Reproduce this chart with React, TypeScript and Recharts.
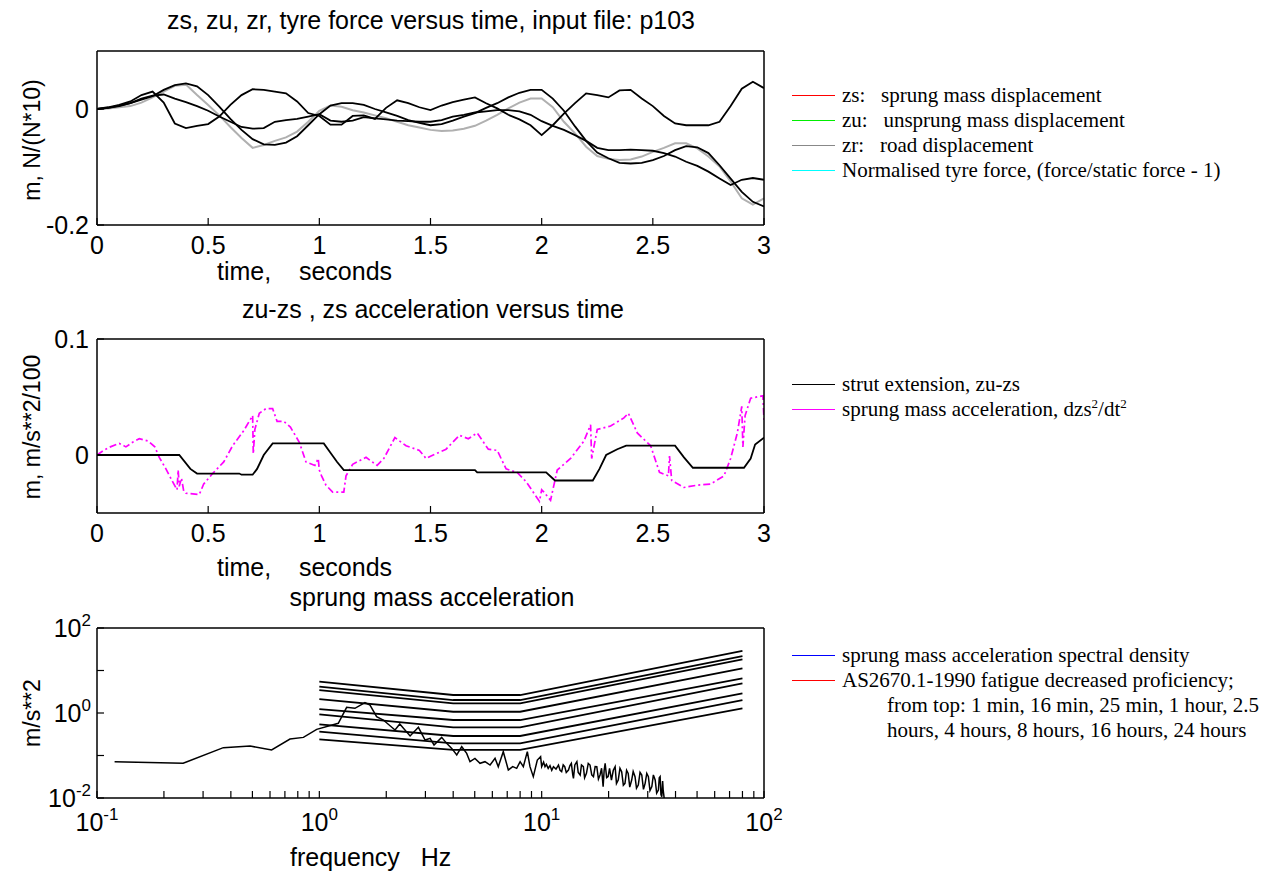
import React from "react";
import { LineChart, Line, XAxis, YAxis, Legend } from "recharts";

const SANS = "Arial, 'Liberation Sans', Helvetica, sans-serif";
const SERIF = "'Times New Roman', 'Liberation Serif', Times, serif";
const AXIS_PX = 25;

// ---------- panel 1: zs, zu, zr, tyre force versus time ----------
const topTime = [0, 0.05, 0.1, 0.15, 0.2, 0.25, 0.3, 0.35, 0.4, 0.45, 0.5, 0.55, 0.6, 0.65, 0.7, 0.75, 0.8, 0.85, 0.9, 0.95, 1, 1.05, 1.1, 1.15, 1.2, 1.25, 1.3, 1.35, 1.4, 1.45, 1.5, 1.55, 1.6, 1.65, 1.7, 1.75, 1.8, 1.85, 1.9, 1.95, 2, 2.05, 2.1, 2.15, 2.2, 2.25, 2.3, 2.35, 2.4, 2.45, 2.5, 2.55, 2.6, 2.65, 2.7, 2.75, 2.8, 2.85, 2.9, 2.95, 3];
const zsDisp = [0, 0.002, 0.005, 0.01, 0.016, 0.022, 0.033, 0.041, 0.044, 0.039, 0.024, 0.004, -0.017, -0.036, -0.052, -0.061, -0.062, -0.058, -0.047, -0.028, -0.009, 0.006, 0.01, 0.01, 0.007, 0, -0.006, -0.012, -0.019, -0.024, -0.028, -0.026, -0.02, -0.013, -0.007, 0.002, 0.01, 0.02, 0.028, 0.033, 0.033, 0.018, -0.003, -0.03, -0.055, -0.075, -0.085, -0.093, -0.094, -0.093, -0.088, -0.081, -0.071, -0.064, -0.066, -0.076, -0.097, -0.12, -0.143, -0.16, -0.168];
const zuDisp = [0, 0.001, 0.003, 0.005, 0.011, 0.02, 0.03, 0.04, 0.042, 0.024, 0.007, -0.011, -0.031, -0.05, -0.067, -0.062, -0.055, -0.049, -0.039, -0.022, -0.003, 0.006, 0.004, -0.002, -0.006, -0.011, -0.016, -0.022, -0.028, -0.032, -0.036, -0.038, -0.037, -0.034, -0.029, -0.02, -0.01, 0.001, 0.011, 0.018, 0.018, 0.003, -0.022, -0.042, -0.065, -0.081, -0.086, -0.088, -0.087, -0.082, -0.074, -0.067, -0.059, -0.059, -0.068, -0.082, -0.099, -0.125, -0.154, -0.165, -0.154];
const zrDisp = [0, 0.003, 0.007, 0.013, 0.024, 0.03, 0.011, -0.025, -0.033, -0.029, -0.026, -0.013, 0.007, 0.024, 0.034, 0.033, 0.03, 0.027, 0.013, -0.007, -0.012, -0.027, -0.027, -0.012, -0.011, -0.017, 0.002, 0.015, 0.01, 0.003, -0.002, 0.006, 0.012, 0.016, 0.02, 0.01, 0.001, -0.01, -0.018, -0.028, -0.045, -0.028, -0.008, 0.01, 0.027, 0.024, 0.02, 0.032, 0.033, 0.018, 0.005, -0.012, -0.025, -0.028, -0.028, -0.028, -0.022, 0.005, 0.035, 0.047, 0.036];
const tyreForce = [0, 0.002, 0.006, 0.01, 0.018, 0.023, 0.025, 0.018, 0.012, 0.005, -0.003, -0.013, -0.022, -0.031, -0.034, -0.033, -0.022, -0.019, -0.017, -0.013, -0.009, -0.02, -0.022, -0.02, -0.014, -0.016, -0.018, -0.02, -0.021, -0.022, -0.022, -0.019, -0.013, -0.01, -0.006, -0.004, -0.002, -0.002, -0.004, -0.01, -0.021, -0.029, -0.036, -0.045, -0.055, -0.067, -0.071, -0.071, -0.07, -0.071, -0.072, -0.076, -0.082, -0.091, -0.098, -0.108, -0.12, -0.131, -0.122, -0.119, -0.122];
const timeTicks = [0, 0.5, 1, 1.5, 2, 2.5, 3];
const topYTicks = [-0.2, 0];

// ---------- panel 2: strut extension and sprung mass acceleration ----------
const strutTime = [0, 0.37, 0.42, 0.45, 0.64, 0.65, 0.7, 0.72, 0.75, 0.79, 1.02, 1.05, 1.08, 1.11, 1.7, 1.71, 2.02, 2.06, 2.23, 2.26, 2.29, 2.34, 2.38, 2.6, 2.64, 2.68, 2.91, 2.94, 2.96, 3];
const strutExt = [0, 0, -0.012, -0.016, -0.016, -0.017, -0.017, -0.012, 0, 0.01, 0.01, 0.002, -0.006, -0.013, -0.013, -0.015, -0.015, -0.022, -0.022, -0.012, 0, 0.005, 0.008, 0.008, -0.002, -0.011, -0.011, -0.003, 0.009, 0.015];
const accTime = [0, 0.03, 0.06, 0.1, 0.13, 0.16, 0.19, 0.23, 0.26, 0.28, 0.31, 0.34, 0.36, 0.365, 0.37, 0.38, 0.39, 0.4, 0.46, 0.48, 0.52, 0.57, 0.61, 0.66, 0.7, 0.703, 0.71, 0.73, 0.76, 0.79, 0.81, 0.84, 0.87, 0.91, 0.94, 0.98, 0.995, 1, 1.01, 1.03, 1.06, 1.11, 1.12, 1.15, 1.21, 1.26, 1.29, 1.34, 1.39, 1.45, 1.48, 1.5, 1.57, 1.63, 1.67, 1.71, 1.76, 1.8, 1.84, 1.89, 1.93, 1.99, 2, 2.01, 2.04, 2.07, 2.13, 2.19, 2.22, 2.225, 2.25, 2.31, 2.37, 2.39, 2.43, 2.49, 2.53, 2.57, 2.575, 2.585, 2.64, 2.7, 2.76, 2.82, 2.85, 2.88, 2.9, 2.905, 2.915, 2.94, 2.995, 3];
const accVal = [0, 0.004, 0.007, 0.01, 0.007, 0.011, 0.014, 0.012, 0.007, -0.002, -0.012, -0.023, -0.03, -0.013, -0.027, -0.02, -0.031, -0.033, -0.034, -0.025, -0.016, -0.006, 0.008, 0.021, 0.034, 0.001, 0.022, 0.036, 0.04, 0.04, 0.029, 0.029, 0.024, 0.011, -0.006, -0.009, -0.003, -0.013, -0.018, -0.026, -0.032, -0.032, -0.018, -0.008, -0.002, -0.009, -0.003, 0.015, 0.008, 0.004, -0.003, -0.001, 0.005, 0.017, 0.014, 0.019, 0.005, 0.004, -0.012, -0.015, -0.023, -0.04, -0.03, -0.032, -0.039, -0.013, -0.003, 0.012, 0.026, -0.003, 0.022, 0.025, 0.032, 0.036, 0.019, 0.008, -0.015, -0.018, -0.001, -0.022, -0.028, -0.026, -0.025, -0.018, -0.003, 0.019, 0.042, 0.007, 0.034, 0.049, 0.051, 0.03];
const midYTicks = [0, 0.1];

// ---------- panel 3: spectral density (log-log) ----------
const specFreq = [0.12, 0.244, 0.37, 0.488, 0.61, 0.738, 0.848, 0.973, 1.217, 1.327, 1.446, 1.604, 1.69, 1.81, 1.94, 2.19, 2.3, 2.56, 2.79, 2.99, 3.15, 3.28, 3.55, 3.74, 3.94, 4.15, 4.37, 4.6, 4.76, 5.01, 5.28, 5.56, 5.86, 6.17, 6.38, 6.72, 7.08, 7.41, 7.72, 8, 8.27, 8.62, 8.86, 9.17, 9.56, 9.89,
  10.0, 10.2, 10.35, 10.5, 10.7, 10.9, 11.1, 11.3, 11.6, 11.9, 12.1, 12.3, 12.5, 12.7, 12.9, 13.2, 13.4, 13.6, 13.8, 13.9, 14.1, 14.4, 14.6, 14.9, 15.1, 15.4, 15.6, 15.9, 16.2, 16.5, 16.8, 17.1, 17.4, 17.7, 18.0, 18.3, 18.6, 18.9, 19.1, 19.3, 19.6, 19.9, 20.2, 20.6, 21.0, 21.4, 21.7, 22.1, 22.5, 22.9, 23.3, 23.7, 24.1, 24.5, 24.9, 25.4, 25.8, 26.3, 26.7, 27.2, 27.7, 28.2, 28.7, 29.2, 29.7, 30.2, 30.7, 31.3, 31.8, 32.4, 32.9, 33.5, 33.8, 34.1, 34.4, 34.7, 35.0, 35.2, 35.6];
const specPsd = [0.0716, 0.0655, 0.153, 0.167, 0.135, 0.244, 0.267, 0.412, 0.571, 1.36, 1.29, 1.75, 1.54, 0.82, 0.684, 0.398, 0.551, 0.288, 0.46, 0.231, 0.254, 0.177, 0.267, 0.193, 0.147, 0.103, 0.161, 0.112, 0.0716, 0.0857, 0.0655, 0.0716, 0.0597, 0.0857, 0.0546, 0.123, 0.0456, 0.0546, 0.0499, 0.0716, 0.0546, 0.123, 0.0546, 0.0318, 0.0783, 0.0938,
  0.055, 0.07, 0.0546, 0.062, 0.0499, 0.058, 0.045, 0.0546, 0.048, 0.0597, 0.045, 0.0416, 0.06, 0.0546, 0.04, 0.0456, 0.058, 0.0655, 0.035, 0.029, 0.06, 0.0716, 0.04, 0.0348, 0.06, 0.0546, 0.03, 0.038, 0.065, 0.0597, 0.035, 0.0318, 0.055, 0.0546, 0.028, 0.0348, 0.05, 0.0185, 0.045, 0.0655, 0.03, 0.0318, 0.05, 0.0265, 0.045, 0.0546, 0.022, 0.0265, 0.05, 0.0416, 0.02, 0.0221, 0.045, 0.038, 0.018, 0.0265, 0.042, 0.0318, 0.017, 0.0202, 0.04, 0.0348, 0.016, 0.0221, 0.038, 0.0318, 0.015, 0.0185, 0.035, 0.0265, 0.013, 0.0154, 0.03, 0.0318, 0.012, 0.0107, 0.025, 0.0154, 0.0095];

// AS2670.1-1990 fatigue decreased proficiency boundaries
const fatigueFreq = [1, 4, 8, 80];
const fat1min = [5.46, 2.65, 2.65, 28.8];
const fat16min = [4.16, 2.02, 2.02, 21.9];
const fat25min = [3.47, 1.69, 1.69, 18.3];
const fat1h = [2.13, 1.07, 1.07, 11.2];
const fat2h5 = [1.24, 0.684, 0.684, 6.54];
const fat4h = [0.93, 0.459, 0.459, 4.99];
const fat8h = [0.54, 0.288, 0.288, 2.9];
const fat16h = [0.363, 0.193, 0.193, 2.02];
const fat24h = [0.24, 0.135, 0.135, 1.29];
const fatigueSets = [fat1min, fat16min, fat25min, fat1h, fat2h5, fat4h, fat8h, fat16h, fat24h];

const freqTicks = [0.1, 0.2, 0.3, 0.4, 0.5, 0.6, 0.7, 0.8, 0.9, 1, 2, 3, 4, 5, 6, 7, 8, 9, 10, 20, 30, 40, 50, 60, 70, 80, 90, 100];
const psdTicks = [0.01, 0.1, 1, 10, 100];

// legends
const topLegend = [
  { color: "#ff0000", text: "zs:   sprung mass displacement" },
  { color: "#00ee00", text: "zu:   unsprung mass displacement" },
  { color: "#888888", text: "zr:   road displacement" },
  { color: "#00ffff", text: "Normalised tyre force, (force/static force - 1)" },
];
const midLegend = [
  { color: "#000000", text: "strut extension, zu-zs" },
  { color: "#ff00ff", text: "sprung mass acceleration, dzs", sup: true },
];
const bottomLegend = [
  { color: "#0000ff", text: "sprung mass acceleration spectral density" },
  { color: "#ff0000", text: "AS2670.1-1990 fatigue decreased proficiency;" },
  { color: null, text: "from top: 1 min, 16 min, 25 min, 1 hour, 2.5" },
  { color: null, text: "hours, 4 hours, 8 hours, 16 hours, 24 hours" },
];

// table / per-series rows built from the arrays above
const topRows = topTime.map((t, i) => ({ t, zs: zsDisp[i], zu: zuDisp[i], zr: zrDisp[i], tyre: tyreForce[i] }));
const strutRows = strutTime.map((t, i) => ({ t, v: strutExt[i] }));
const accRows = accTime.map((t, i) => ({ t, v: accVal[i] }));
const specRows = specFreq.map((f, i) => ({ f, p: specPsd[i] }));
const fatigueRows = fatigueSets.map((set) => fatigueFreq.map((f, i) => ({ f, p: set[i] })));

const TICK = 7;
const LW = 1.8;

const LinXTick = (props: any) => {
  const { x, y, payload, dy } = props;
  return (
    <g>
      <line x1={x} y1={y} x2={x} y2={y - TICK} stroke="#000" strokeWidth={1.2} />
      <text x={x} y={y + dy} textAnchor="middle" fontSize={AXIS_PX} fontFamily={SANS} fill="#000">
        {payload.value}
      </text>
    </g>
  );
};

const LinYTick = (props: any) => {
  const { x, y, payload } = props;
  return (
    <g>
      <line x1={x} y1={y} x2={x + TICK} y2={y} stroke="#000" strokeWidth={1.2} />
      <text x={x - 8} y={y + 9} textAnchor="end" fontSize={AXIS_PX} fontFamily={SANS} fill="#000">
        {payload.value}
      </text>
    </g>
  );
};

const decade = (v: number) => Math.round(Math.log10(v));
const isDecade = (v: number) => Math.abs(Math.log10(v) - decade(v)) < 1e-9;

const LogXTick = (props: any) => {
  const { x, y, payload } = props;
  const v = payload.value;
  return (
    <g>
      <line x1={x} y1={y} x2={x} y2={y - TICK} stroke="#000" strokeWidth={1.2} />
      {isDecade(v) && (
        <text x={x} y={y + 33} textAnchor="middle" fontSize={AXIS_PX} fontFamily={SANS} fill="#000">
          10
          <tspan dy={-11} fontSize={17}>
            {decade(v)}
          </tspan>
        </text>
      )}
    </g>
  );
};

const LogYTick = (props: any) => {
  const { x, y, payload } = props;
  const e = decade(payload.value);
  return (
    <g>
      <line x1={x} y1={y} x2={x + TICK} y2={y} stroke="#000" strokeWidth={1.2} />
      {e % 2 === 0 && (
        <text x={x - 6} y={y + 9} textAnchor="end" fontSize={AXIS_PX} fontFamily={SANS} fill="#000">
          10
          <tspan dy={-11} fontSize={17}>
            {e}
          </tspan>
        </text>
      )}
    </g>
  );
};

const LegendBox = ({ items }: { items: any[] }) => (
  <div style={{ fontFamily: SERIF, fontSize: 21, color: "#000" }}>
    {items.map((it, i) => (
      <div key={i} style={{ display: "flex", alignItems: "center", height: 25, whiteSpace: "pre" }}>
        {it.color ? (
          <span style={{ display: "inline-block", width: 43, height: 0, borderTop: `1px solid ${it.color}`, marginRight: 7 }} />
        ) : (
          <span style={{ display: "inline-block", width: 95 }} />
        )}
        <span style={{ lineHeight: "25px" }}>
          {it.text}
          {it.sup && (
            <>
              <sup style={{ fontSize: 13, lineHeight: 0 }}>2</sup>/dt<sup style={{ fontSize: 13, lineHeight: 0 }}>2</sup>
            </>
          )}
        </span>
      </div>
    ))}
  </div>
);

const axisLine = { stroke: "#000", strokeWidth: 1.5 };
const pre = { whiteSpace: "pre" as const };

const Frame = ({ top, children }: { top: number; children: React.ReactNode }) => (
  <div style={{ position: "absolute", left: 0, top, width: 1283, height: 300 }}>{children}</div>
);

export default function App() {
  return (
    <div style={{ position: "absolute", left: 0, top: 0, width: 1283, height: 880, background: "#fff" }}>
      <Frame top={0}>
        <LineChart width={1283} height={300} data={topRows} margin={{ top: 51, right: 519, bottom: 45, left: 0 }}>
          <XAxis dataKey="t" type="number" domain={[0, 3]} ticks={timeTicks} interval={0} allowDataOverflow height={30} tickSize={0} tickMargin={0} tickLine={false} axisLine={axisLine} tick={<LinXTick dy={29} />} />
          <XAxis xAxisId="top" orientation="top" mirror type="number" domain={[0, 3]} ticks={timeTicks} interval={0} allowDataOverflow tick={false} tickSize={TICK} axisLine={axisLine} tickLine={{ stroke: "#000", strokeWidth: 1.2 }} />
          <YAxis type="number" domain={[-0.2, 0.1]} ticks={topYTicks} interval={0} allowDataOverflow width={97} tickSize={0} tickMargin={0} tickLine={false} axisLine={axisLine} tick={<LinYTick />} />
          <YAxis yAxisId="right" orientation="right" mirror type="number" domain={[-0.2, 0.1]} ticks={topYTicks} interval={0} allowDataOverflow tick={false} tickSize={TICK} axisLine={axisLine} tickLine={{ stroke: "#000", strokeWidth: 1.2 }} />
          <Line type="linear" dataKey="zu" stroke="#b0b0b0" strokeWidth={2} dot={false} isAnimationActive={false} />
          <Line type="linear" dataKey="zs" stroke="#000" strokeWidth={LW} dot={false} isAnimationActive={false} />
          <Line type="linear" dataKey="zr" stroke="#000" strokeWidth={LW} dot={false} isAnimationActive={false} />
          <Line type="linear" dataKey="tyre" stroke="#000" strokeWidth={LW} dot={false} isAnimationActive={false} />
          <Legend layout="vertical" align="center" verticalAlign="middle" wrapperStyle={{ left: 792, top: 83, width: 480 }} content={() => <LegendBox items={topLegend} />} />
        </LineChart>
      </Frame>

      <Frame top={290}>
        <LineChart width={1283} height={300} margin={{ top: 49, right: 519, bottom: 47, left: 0 }}>
          <XAxis dataKey="t" type="number" domain={[0, 3]} ticks={timeTicks} interval={0} allowDataOverflow height={30} tickSize={0} tickMargin={0} tickLine={false} axisLine={axisLine} tick={<LinXTick dy={29} />} />
          <XAxis xAxisId="top" orientation="top" mirror type="number" domain={[0, 3]} ticks={timeTicks} interval={0} allowDataOverflow tick={false} tickSize={TICK} axisLine={axisLine} tickLine={{ stroke: "#000", strokeWidth: 1.2 }} />
          <YAxis type="number" domain={[-0.05, 0.1]} ticks={midYTicks} interval={0} allowDataOverflow width={97} tickSize={0} tickMargin={0} tickLine={false} axisLine={axisLine} tick={<LinYTick />} />
          <YAxis yAxisId="right" orientation="right" mirror type="number" domain={[-0.05, 0.1]} ticks={midYTicks} interval={0} allowDataOverflow tick={false} tickSize={TICK} axisLine={axisLine} tickLine={{ stroke: "#000", strokeWidth: 1.2 }} />
          <Line data={accRows} type="linear" dataKey="v" stroke="#ff00ff" strokeWidth={1.7} strokeDasharray="7 3 2 3" dot={false} isAnimationActive={false} />
          <Line data={strutRows} type="linear" dataKey="v" stroke="#000" strokeWidth={LW} dot={false} isAnimationActive={false} />
          <Legend layout="vertical" align="center" verticalAlign="middle" wrapperStyle={{ left: 792, top: 82, width: 480 }} content={() => <LegendBox items={midLegend} />} />
        </LineChart>
      </Frame>

      <Frame top={580}>
        <LineChart width={1283} height={300} margin={{ top: 48, right: 519, bottom: 52, left: 0 }}>
          <XAxis dataKey="f" type="number" scale="log" domain={[0.1, 100]} ticks={freqTicks} interval={0} allowDataOverflow height={30} tickSize={0} tickMargin={0} tickLine={false} axisLine={axisLine} tick={<LogXTick />} />
          <XAxis xAxisId="top" orientation="top" mirror type="number" scale="log" domain={[0.1, 100]} ticks={freqTicks} interval={0} allowDataOverflow tick={false} tickSize={TICK} axisLine={axisLine} tickLine={{ stroke: "#000", strokeWidth: 1.2 }} />
          <YAxis type="number" scale="log" domain={[0.01, 100]} ticks={psdTicks} interval={0} allowDataOverflow width={97} tickSize={0} tickMargin={0} tickLine={false} axisLine={axisLine} tick={<LogYTick />} />
          <YAxis yAxisId="right" orientation="right" mirror type="number" scale="log" domain={[0.01, 100]} ticks={psdTicks} interval={0} allowDataOverflow tick={false} tickSize={TICK} axisLine={axisLine} tickLine={{ stroke: "#000", strokeWidth: 1.2 }} />
          <Line data={specRows} type="linear" dataKey="p" stroke="#000" strokeWidth={1.5} dot={false} isAnimationActive={false} />
          {fatigueRows.map((rows, i) => (
            <Line key={i} data={rows} type="linear" dataKey="p" stroke="#000" strokeWidth={LW} dot={false} isAnimationActive={false} />
          ))}
          <Legend layout="vertical" align="center" verticalAlign="middle" wrapperStyle={{ left: 792, top: 63, width: 480 }} content={() => <LegendBox items={bottomLegend} />} />
        </LineChart>
      </Frame>

      <svg width={1283} height={880} style={{ position: "absolute", left: 0, top: 0, pointerEvents: "none" }}>
        <g fontFamily={SANS} fontSize={AXIS_PX} fill="#000">
          <text x={431} y={29} textAnchor="middle">zs, zu, zr, tyre force versus time, input file: p103</text>
          <text x={217} y={280} xmlSpace="preserve" style={pre}>time,    seconds</text>
          <text x={40} y={140} textAnchor="middle" fontSize={23} transform="rotate(-90 40 140)">m, N/(N*10)</text>

          <text x={433} y={318} textAnchor="middle">zu-zs , zs acceleration versus time</text>
          <text x={217} y={576} xmlSpace="preserve" style={pre}>time,    seconds</text>
          <text x={40} y={427} textAnchor="middle" fontSize={23} transform="rotate(-90 40 427)">m, m/s**2/100</text>

          <text x={432} y={606} textAnchor="middle">sprung mass acceleration</text>
          <text x={290} y={866} xmlSpace="preserve" style={pre}>frequency   Hz</text>
          <text x={40} y={713} textAnchor="middle" fontSize={23} transform="rotate(-90 40 713)">m/s**2</text>
        </g>
      </svg>
    </div>
  );
}
